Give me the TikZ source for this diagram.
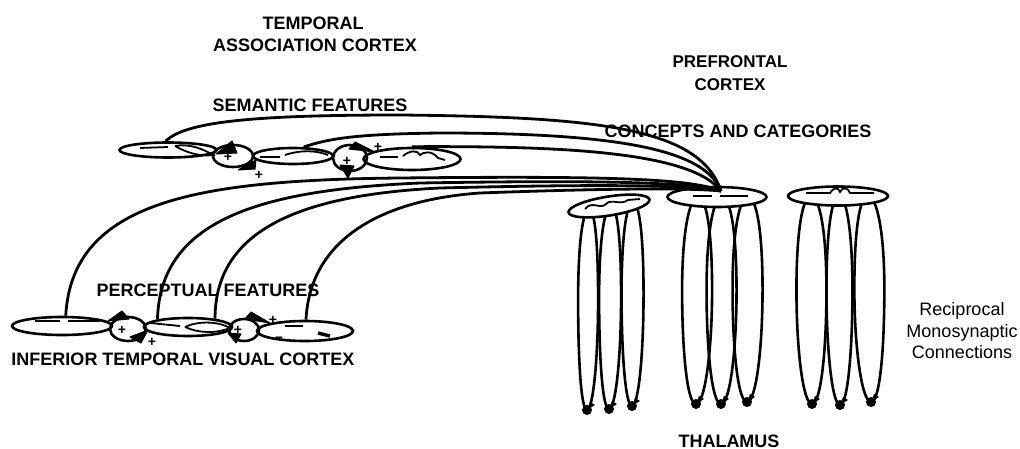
\documentclass[tikz,border=0pt]{standalone}
\usepackage{fontspec}
\setmainfont{Liberation Sans}
\usetikzlibrary{shapes.geometric,calc}
\pgfdeclarelayer{back}
\pgfsetlayers{back,main}
\newcommand{\thloop}[3]{%
  \draw[loopf] (#1) .. controls +(-0.55*#3,0) and +(0,-60) .. ($(#1)!0.45!(#2)+(-#3,0)$)
     .. controls +(0,60) and +(-0.6*#3,0) .. (#2.center)
     .. controls +(0.6*#3,0) and +(0,60) .. ($(#1)!0.45!(#2)+(#3,0)$)
     .. controls +(0,-60) and +(0.55*#3,0) .. (#1);}
\begin{document}
\begin{tikzpicture}[x=1pt,y=-1pt,line width=2.6pt,
  lbl/.style={font=\fontsize{18}{21}\selectfont\bfseries, inner sep=0pt, anchor=base},
  slbl/.style={font=\fontsize{17}{20}\selectfont\bfseries, inner sep=0pt, anchor=base},
  rlbl/.style={font=\fontsize{18}{21}\selectfont, inner sep=0pt, anchor=base},
  area/.style={draw, ellipse, inner sep=0pt, line width=2.6pt},
  pfc/.style={area, fill=white},
  fiber/.style={line width=2.8pt},
  loopf/.style={line width=2.6pt},
  blob/.style={circle, fill=black, inner sep=0pt, minimum size=10pt},
  sign/.style={font=\fontsize{14}{14}\selectfont\bfseries, inner sep=0pt},
  wedge/.style={fill=black, draw=black, line width=1pt, line join=round},
  inner/.style={line width=1.8pt}
]
\useasboundingbox (0,0) rectangle (1020,449);

% labels
\node[lbl] (l1) at (313,30) {TEMPORAL};
\node[lbl] (l2) at (315,52) {ASSOCIATION CORTEX};
\node[lbl] (l3) at (310,112) {SEMANTIC FEATURES};
\node[slbl] (l4) at (730,68) {PREFRONTAL};
\node[slbl] (l5) at (730,91) {CORTEX};
\node[lbl] (l6) at (738,138) {CONCEPTS AND CATEGORIES};
\node[lbl] (l7) at (208,296) {PERCEPTUAL FEATURES};
\node[lbl] (l8) at (183,365) {INFERIOR TEMPORAL VISUAL CORTEX};
\node[lbl] (l9) at (729,447) {THALAMUS};
\node[rlbl] (r1) at (962,315) {Reciprocal};
\node[rlbl] (r2) at (962,337) {Monosynaptic};
\node[rlbl] (r3) at (962,358) {Connections};

% semantic features
\node[area, minimum width=97pt, minimum height=15pt] (s1) at (168,150) {};
\node[area, minimum width=40pt, minimum height=22pt] (sj1) at (233,156) {};
\node[area, minimum width=80pt, minimum height=16pt] (s2) at (293,156) {};
\node[area, minimum width=34pt, minimum height=26pt] (sj2) at (350,158) {};
\node[area, minimum width=97pt, minimum height=22pt] (s3) at (412,159) {};
\draw[inner] (140,148) -- (168,147);
\draw[inner] (175,146) .. controls (190,143) and (205,150) .. (213,155) .. controls (200,157) and (185,152) .. (175,146);
\draw[inner] (260,157) -- (280,157);
\draw[inner] (285,155) .. controls (300,150) and (315,150) .. (328,155);
\draw[inner] (380,157) -- (398,157);
\draw[inner] (403,156) .. controls (410,150) and (418,150) .. (420,155) .. controls (423,152) and (432,150) .. (438,158) -- (445,160);

% perceptual features
\node[area, minimum width=100pt, minimum height=18pt] (p1) at (62,326) {};
\node[area, minimum width=36pt, minimum height=24pt] (pj1) at (128,329) {};
\node[area, minimum width=88pt, minimum height=18pt] (p2) at (188,327) {};
\node[area, minimum width=30pt, minimum height=22pt] (pj2) at (244,330) {};
\node[area, minimum width=96pt, minimum height=20pt] (p3) at (305,331) {};
\draw[inner] (35,321) -- (60,321);
\draw[inner] (68,321) -- (100,321);
\draw[inner] (150,323) -- (180,326);
\draw[inner] (185,327) .. controls (200,320) and (220,322) .. (230,328) .. controls (215,334) and (198,333) .. (185,327);
\draw[inner] (285,326) -- (303,326);
\draw[line width=3.4pt] (318,333) -- (330,336);

% arrow wedges and signs
\fill[wedge] (216,154) -- (232,141) -- (237,153) -- cycle;
\fill[wedge] (238,170) -- (256,160) -- (255,169) -- cycle;
\fill[wedge] (349,149) -- (355,142) -- (375,152) -- cycle;
\fill[wedge] (340,165) -- (354,166) -- (348,178) -- cycle;
\fill[wedge] (108,321) -- (122,311) -- (129,319) -- cycle;
\fill[wedge] (130,337) -- (148,330) -- (141,343) -- cycle;
\fill[wedge] (245,319) -- (251,312) -- (270,323) -- cycle;
\fill[wedge] (228,333) -- (241,334) -- (236,343) -- cycle;
\node[sign] (g1) at (228,157) {+};
\node[sign] (g2) at (259,175) {+};
\node[sign] (g3) at (347,161) {+};
\node[sign] (g4) at (378,147) {+};
\node[sign] (g5) at (122,330) {+};
\node[sign] (g6) at (152,342) {+};
\node[sign] (g7) at (238,330) {+};
\node[sign] (g8) at (273,320) {+};
\node[sign] (g9) at (279,339) {--};

% thalamus endings
\node[blob] (t1) at (587,410) {};
\node[blob] (t2) at (609,409) {};
\node[blob] (t3) at (632,406) {};
\node[blob] (t4) at (696,404) {};
\node[blob] (t5) at (721,404) {};
\node[blob] (t6) at (747,402) {};
\node[blob] (t7) at (812,404) {};
\node[blob] (t8) at (840,405) {};
\node[blob] (t9) at (871,402) {};
\foreach \t in {t1,t2,t3,t4,t5,t6,t7,t8,t9}
  \fill (\t.center) -- ++(3,-8) -- ++(5,3) -- cycle;
\coordinate (u1) at (589,209);
\coordinate (u2) at (611,206);
\coordinate (u3) at (633,202);
\coordinate (u4) at (698,197);
\coordinate (u5) at (722,197);
\coordinate (u6) at (748,197);
\coordinate (u7) at (811,196);
\coordinate (u8) at (839,196);
\coordinate (u9) at (868,196);
\begin{pgfonlayer}{back}
\thloop{u1}{t1}{10}
\thloop{u2}{t2}{11}
\thloop{u3}{t3}{11}
\thloop{u4}{t4}{15}
\thloop{u5}{t5}{15}
\thloop{u6}{t6}{15}
\thloop{u7}{t7}{15}
\thloop{u8}{t8}{13}
\thloop{u9}{t9}{15}
\end{pgfonlayer}

% prefrontal cortex
\node[pfc, minimum width=82pt, minimum height=19pt, rotate=9] (f1) at (609,206) {};
\node[pfc, minimum width=99pt, minimum height=20pt] (f2) at (717,197) {};
\node[pfc, minimum width=100pt, minimum height=19pt] (f3) at (838,196) {};
\draw[inner] (585,209) .. controls (592,200) and (600,210) .. (606,204) .. controls (612,198) and (620,206) .. (628,200) -- (640,199);
\draw[inner] (693,196) -- (712,196);
\draw[inner] (720,196) -- (748,196);
\draw[inner] (806,193) -- (830,193) .. controls (834,187) and (838,187) .. (840,192) .. controls (842,187) and (848,187) .. (850,193) -- (874,193);

% fibres to prefrontal cortex
\coordinate (C) at (721,191);
\draw[fiber] (s1.105) .. controls (185,122) and (250,115) .. (400,115) .. controls (600,117) and (700,128) .. (C);
\draw[fiber] (s2.40) .. controls (330,138) and (360,134) .. (440,133) .. controls (620,133) and (705,150) .. (C);
\draw[fiber] (s3.north) .. controls (550,146) and (690,150) .. (C);
\draw[fiber] (p1.70) .. controls (72,200) and (200,180) .. (400,178) .. controls (600,176) and (690,178) .. (C);
\draw[fiber] (p2.166) .. controls (160,220) and (260,190) .. (420,183) .. controls (600,180) and (690,182) .. (C);
\draw[fiber] (p2.17) .. controls (215,230) and (300,195) .. (440,188) .. controls (600,184) and (690,185) .. (C);
\draw[fiber] (p3.85) .. controls (310,240) and (380,200) .. (480,193) .. controls (620,188) and (690,188) .. (C);
\end{tikzpicture}
\end{document}
